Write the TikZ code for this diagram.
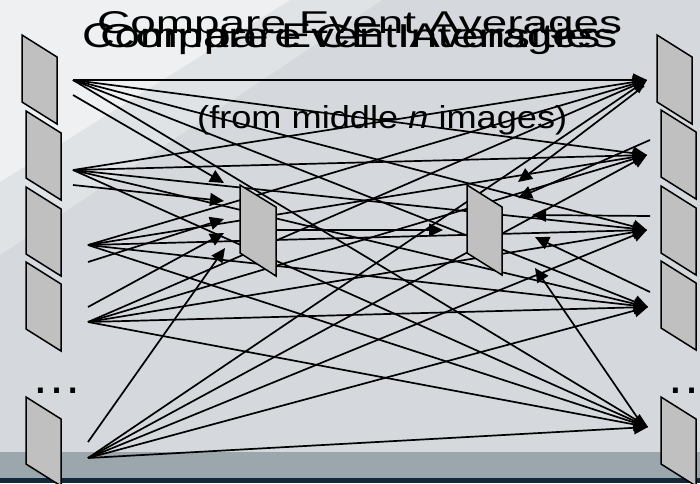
\documentclass[tikz,border=0pt]{standalone}
\usepackage{fontspec}
\setmainfont{Liberation Sans}
\usetikzlibrary{arrows.meta}
\definecolor{bgmain}{HTML}{D5D9DD}
\definecolor{bgband}{HTML}{E0E3E6}
\definecolor{bglight}{HTML}{EEF0F1}
\definecolor{footgray}{HTML}{9BA6AD}
\definecolor{footnavy}{HTML}{13283A}
\definecolor{framefill}{HTML}{C0C0C0}
\tikzset{
  imgframe/.style={fill=framefill, draw=black, line width=1.5pt, line join=miter},
  link/.style={draw=black, line width=1.7pt},
  arr/.style={link, -{Triangle[length=14pt,width=13pt]}},
  ttl/.style={anchor=base west, inner sep=0pt, text=black},
}
\newcommand\imgpanel[2]{\draw[imgframe] (#1,#2) -- ++(35,22) -- ++(0,67) -- ++(-35,-22) -- cycle;}
\begin{document}
\begin{tikzpicture}[x=1pt,y=-1pt]
\useasboundingbox (0,0) rectangle (700,483);
\clip (0,0) rectangle (700,483);
% background
\fill[bgmain] (0,0) rectangle (700,483);
\fill[bgband] (0,0) -- (382,0) -- (0,255) -- cycle;
\fill[bglight] (0,0) -- (290,0) -- (0,182) -- cycle;
\fill[footgray] (0,452) rectangle (700,478);
\fill[footnavy] (0,478) rectangle (700,483);
% titles
\node[ttl] (t1) at (97,33) {\resizebox{525pt}{22pt}{Compare Event Averages}};
\node[ttl] (t2) at (82,47) {\resizebox{518pt}{24pt}{Compare Event Averages}};
\node[ttl] (t3) at (100,47) {\resizebox{517pt}{24pt}{Compare CE Intensities}};
\node[ttl] (sub) at (197,128) {\resizebox{370pt}{23pt}{(from middle \textit{n} images)}};
\node[ttl, font=\fontsize{51}{51}\selectfont] (dl) at (31,393) {…};
\node[ttl, font=\fontsize{51}{51}\selectfont] (dr) at (666,393) {…};
% points
\coordinate (L1) at (73,80);  \coordinate (L2) at (73,170); \coordinate (L3) at (88,245);
\coordinate (L4) at (88,322); \coordinate (L5) at (88,458);
\coordinate (S1) at (73,95);  \coordinate (S2) at (73,185); \coordinate (S3) at (88,262);
\coordinate (S4) at (88,307); \coordinate (S5) at (88,442);
\coordinate (R1) at (647,80); \coordinate (R2) at (647,155); \coordinate (R3) at (647,230);
\coordinate (R4) at (648,307); \coordinate (R5) at (648,427);
\coordinate (T1) at (644,86); \coordinate (T2) at (650,140); \coordinate (T3) at (650,216);
\coordinate (T4) at (650,292); \coordinate (T5) at (641,423);
\coordinate (A1) at (224,183); \coordinate (A2) at (224,201); \coordinate (A3) at (224,219);
\coordinate (A4) at (224,233); \coordinate (A5) at (225,248);
\coordinate (B1) at (518,182); \coordinate (B2) at (518,198); \coordinate (B3) at (532,215);
\coordinate (B4) at (535,237); \coordinate (B5) at (535,268);
\coordinate (M1) at (276,230); \coordinate (M2) at (443,230);
% connectors
\foreach \l in {L1,L2,L3,L4,L5}{
  \foreach \r in {R1,R2,R3,R4,R5}{
    \draw[arr] (\l) -- (\r);
  }
}
\foreach \s/\a in {S1/A1,S2/A2,S3/A3,S4/A4,S5/A5}{\draw[arr] (\s) -- (\a);}
\foreach \t/\b in {T1/B1,T2/B2,T3/B3,T4/B4,T5/B5}{\draw[arr] (\t) -- (\b);}
\draw[arr] (M1) -- (M2);
% frames
\imgpanel{22}{35}
\imgpanel{26}{111}
\imgpanel{26}{187}
\imgpanel{26}{262}
\imgpanel{26}{397}
\imgpanel{657}{35}
\imgpanel{661}{110}
\imgpanel{661}{186}
\imgpanel{661}{261}
\imgpanel{661}{397}
\draw[imgframe] (240,185) -- ++(36,22) -- ++(0,69) -- ++(-36,-23) -- cycle;
\draw[imgframe] (467,185) -- ++(35,22) -- ++(0,68) -- ++(-35,-22) -- cycle;
\end{tikzpicture}
\end{document}
